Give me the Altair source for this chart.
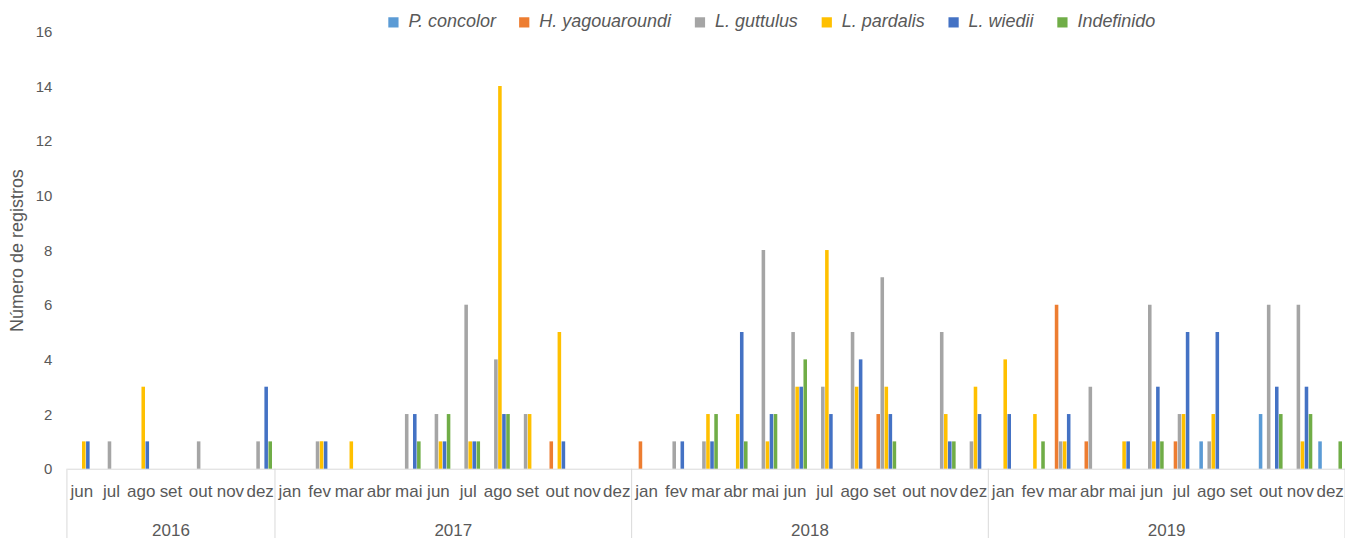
import altair as alt
import pandas as pd

months = ["jan", "fev", "mar", "abr", "mai", "jun", "jul", "ago", "set", "out", "nov", "dez"]
years = ["2016", "2017", "2018", "2019"]
first_month_index = 5  # series starts in jun 2016

series = ["P. concolor", "H. yagouaroundi", "L. guttulus", "L. pardalis", "L. wiedii", "Indefinido"]
colors = ["#5B9BD5", "#ED7D31", "#A5A5A5", "#FFC000", "#4472C4", "#70AD47"]

# values per month: 2016 (jun-dez), 2017, 2018, 2019 (jan-dez)
p_concolor = [0, 0, 0, 0, 0, 0, 0,
              0, 0, 0, 0, 0, 0, 0, 0, 0, 0, 0, 0,
              0, 0, 0, 0, 0, 0, 0, 0, 0, 0, 0, 0,
              0, 0, 0, 0, 0, 0, 0, 1, 0, 2, 0, 1]
h_yagouaroundi = [0, 0, 0, 0, 0, 0, 0,
                  0, 0, 0, 0, 0, 0, 0, 0, 0, 1, 0, 0,
                  1, 0, 0, 0, 0, 0, 0, 0, 2, 0, 0, 0,
                  0, 0, 6, 1, 0, 0, 1, 0, 0, 0, 0, 0]
l_guttulus = [0, 1, 0, 0, 1, 0, 1,
              0, 1, 0, 0, 2, 2, 6, 4, 2, 0, 0, 0,
              0, 1, 1, 0, 8, 5, 3, 5, 7, 0, 5, 1,
              0, 0, 1, 3, 0, 6, 2, 1, 0, 6, 6, 0]
l_pardalis = [1, 0, 3, 0, 0, 0, 0,
              0, 1, 1, 0, 0, 1, 1, 14, 2, 5, 0, 0,
              0, 0, 2, 2, 1, 3, 8, 3, 3, 0, 2, 3,
              4, 2, 1, 0, 1, 1, 2, 2, 0, 0, 1, 0]
l_wiedii = [1, 0, 1, 0, 0, 0, 3,
            0, 1, 0, 0, 2, 1, 1, 2, 0, 1, 0, 0,
            0, 1, 1, 5, 2, 3, 2, 4, 2, 0, 1, 2,
            2, 0, 2, 0, 1, 3, 5, 5, 0, 3, 3, 0]
indefinido = [0, 0, 0, 0, 0, 0, 1,
              0, 0, 0, 0, 1, 2, 1, 2, 0, 0, 0, 0,
              0, 0, 2, 1, 2, 4, 0, 0, 1, 0, 1, 0,
              0, 1, 0, 0, 0, 1, 0, 0, 0, 2, 2, 1]
values = [p_concolor, h_yagouaroundi, l_guttulus, l_pardalis, l_wiedii, indefinido]

periods = [(y, m) for y in years for m in months][first_month_index:]
order = [f"{y}-{m}" for y, m in periods]

rows = []
for i, key in enumerate(order):
    for s, vals in zip(series, values):
        if vals[i] > 0:
            rows.append({"periodo": key, "serie": s, "registros": vals[i]})
df = pd.DataFrame(rows)

# year blocks (derived from periods)
counts = [sum(1 for y, _ in periods if y == yr) for yr in years]
starts = [sum(counts[:k]) for k in range(len(counts))]
ydf = pd.DataFrame({
    "ano": years,
    "meio": [s + c / 2 for s, c in zip(starts, counts)],
})
bdf = pd.DataFrame({"limite": starts + [len(periods)]})

W, H = 1280, 438
FONT = "Liberation Sans"
GREY = "#595959"
LINE = "#D9D9D9"
n = len(periods)

bars = alt.Chart(df).mark_bar().encode(
    x=alt.X("periodo:N", sort=order,
            scale=alt.Scale(domain=order, paddingInner=0.2, paddingOuter=0.1),
            axis=alt.Axis(title=None, labelExpr="split(datum.value, '-')[1]", labelAngle=0,
                          ticks=False, domainColor=LINE, domainWidth=1, labelColor=GREY,
                          labelFontSize=17, labelPadding=15, labelOverlap=False, labelFont=FONT)),
    xOffset=alt.XOffset("serie:N", sort=series, scale=alt.Scale(domain=series, paddingInner=0.12)),
    y=alt.Y("registros:Q", scale=alt.Scale(domain=[0, 16]),
            axis=alt.Axis(values=list(range(0, 17, 2)), grid=False, domain=False, ticks=False,
                          title="Número de registros", titleFontSize=18, titleFontWeight="normal",
                          titleColor=GREY, titleFont=FONT, titlePadding=9,
                          labelColor=GREY, labelFontSize=15, labelFont=FONT, labelPadding=15)),
    color=alt.Color("serie:N", sort=series, scale=alt.Scale(domain=series, range=colors),
                    legend=alt.Legend(title=None, orient="none", legendX=318, legendY=-18,
                                      direction="horizontal", symbolType="square", symbolSize=105,
                                      symbolStrokeWidth=0, labelFontStyle="italic", labelFontSize=18,
                                      labelColor=GREY, labelFont=FONT, labelOffset=6,
                                      columnPadding=19)),
)

xq = alt.Scale(domain=[0, n], nice=False, zero=False)

year_text = alt.Chart(ydf).mark_text(fontSize=17, color=GREY, font=FONT).encode(
    x=alt.X("meio:Q", scale=xq, axis=None),
    y=alt.value(H + 62),
    text="ano:N",
)

rules = alt.Chart(bdf).mark_rule(color=LINE, strokeWidth=1).encode(
    x=alt.X("limite:Q", scale=xq, axis=None),
    y=alt.value(H),
    y2=alt.value(H + 80),
)

chart = alt.layer(bars, year_text, rules).resolve_scale(x="independent").properties(
    width=W, height=H,
    padding={"left": 59, "top": 23, "right": 0, "bottom": 70},
    autosize=alt.AutoSizeParams(type="none"),
).configure(font=FONT).configure_view(strokeWidth=0, stroke="transparent")

chart.save("out.html", embed_options={"renderer": "svg", "actions": False})
